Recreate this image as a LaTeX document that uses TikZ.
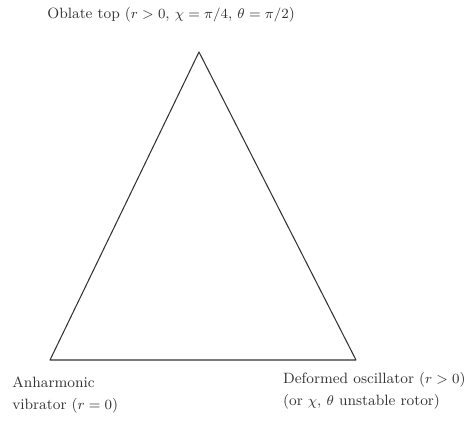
\documentclass[tikz,border=0pt]{standalone}
\usepackage{tikz}
\usetikzlibrary{positioning}
\definecolor{myink}{HTML}{333333}

\begin{document}
\begin{tikzpicture}[x=0.02cm, y=-0.02cm,
                label/.style={font=\fontsize{8.5}{12.5}\selectfont, text=myink, inner sep=0pt, align=left},
                edge/.style={draw=myink, line width=0.6pt, line join=round}]
                \useasboundingbox (0,0) rectangle (469,423);
                \coordinate (top) at (199,52);
                \coordinate (left) at (50,360);
                \coordinate (right) at (356,360);
                \draw[edge] (top) -- (left) -- (right) -- cycle;
                \node[label, anchor=west] (oblate) at (47,15) {Oblate top ($r>0$, $\chi=\pi/4$, $\theta=\pi/2$)};
                \node[label, anchor=north west] (anharm) at (12,376) {Anharmonic\\vibrator ($r=0$)};
                \node[label, anchor=north east] (deformed) at (466,372) {Deformed oscillator ($r>0$)\\(or $\chi$, $\theta$ unstable rotor)};
            \end{tikzpicture}
\end{document}
